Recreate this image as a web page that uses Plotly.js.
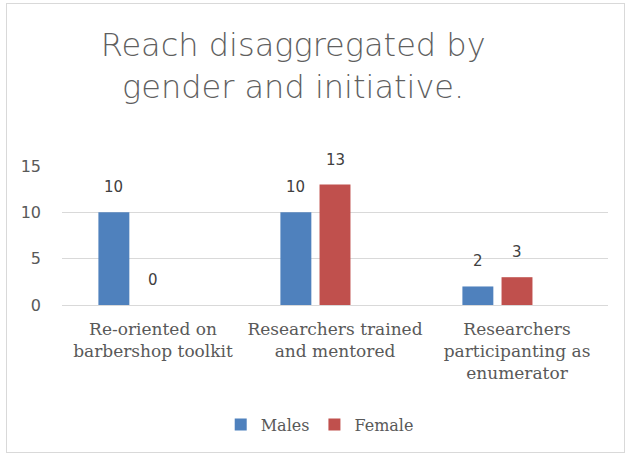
<!DOCTYPE html>
<html>
<head>
<meta charset="utf-8">
<script src="https://cdn.plot.ly/plotly-3.0.1.min.js"></script>
<style>
  html, body { margin: 0; padding: 0; background: #fff; }
  #wrap { position: relative; width: 629px; height: 456px; }
  #chart { position: absolute; left: 0; top: 0; width: 629px; height: 456px; }
  #frame { position: absolute; left: 6px; top: 3px; width: 617px; height: 448px; border: 1px solid #d9d9d9; pointer-events: none; }
</style>
</head>
<body>
<div id="wrap"><div id="chart"></div><div id="frame"></div></div>
<script>
const categories = [
  "Re-oriented on<br>barbershop toolkit",
  "Researchers trained<br>and mentored",
  "Researchers<br>participanting as<br>enumerator"
];
const seriesNames = ["Males", "Female"];
const males = [10, 10, 2];
const female = [0, 13, 3];
const yTicks = [0, 5, 10, 15];

const colors = ["#4F81BD", "#C0504D"];
const barWidth = 0.17;
const offsets = [-0.30, -0.085];
const seriesValues = [males, female];

const traces = seriesValues.map((vals, s) => ({
  type: "bar",
  name: seriesNames[s],
  x: categories,
  y: vals,
  width: categories.map(() => barWidth),
  offset: categories.map(() => offsets[s]),
  marker: { color: colors[s] },
  hoverinfo: "none"
}));

const annotations = [];
seriesValues.forEach((vals, s) => {
  vals.forEach((v, i) => {
    annotations.push({
      xref: "x", yref: "y",
      x: i + offsets[s] + barWidth / 2,
      y: v,
      text: String(v),
      showarrow: false,
      yanchor: "bottom",
      yshift: 14,
      font: { family: "DejaVu Sans", size: 15, color: "#404040" }
    });
  });
});

const layout = {
  width: 629,
  height: 456,
  margin: { l: 62, r: 21, t: 166, b: 151 },
  paper_bgcolor: "rgba(0,0,0,0)",
  plot_bgcolor: "rgba(0,0,0,0)",
  title: {
    text: "Reach disaggregated by<br>gender and initiative.",
    xref: "container", yref: "container",
    x: 0.466, xanchor: "center",
    y: 0.877, yanchor: "top",
    font: { family: "DejaVu Sans", size: 32, weight: 300, color: "#5f5f5f" }
  },
  barmode: "group",
  showlegend: true,
  legend: {
    orientation: "h",
    x: 0.472, xanchor: "center",
    y: -0.86, yanchor: "middle",
    font: { family: "DejaVu Serif", size: 16, color: "#595959" },
    traceorder: "normal"
  },
  xaxis: {
    type: "category",
    tickfont: { family: "DejaVu Serif", size: 17, color: "#595959" },
    showgrid: false,
    showline: false,
    ticks: "",
    zeroline: false,
    ticklabelstandoff: 12,
    fixedrange: true
  },
  yaxis: {
    range: [0, 15],
    tickvals: yTicks,
    ticktext: yTicks.map(String),
    tickfont: { family: "DejaVu Sans", size: 16, color: "#595959" },
    showgrid: true,
    gridcolor: "#d9d9d9",
    gridwidth: 1,
    zeroline: true,
    zerolinecolor: "#d9d9d9",
    zerolinewidth: 1,
    showline: false,
    ticks: "",
    ticklabelstandoff: 20,
    fixedrange: true
  },
  annotations: annotations
};

Plotly.newPlot("chart", traces, layout, { displayModeBar: false, staticPlot: true });
</script>
</body>
</html>
